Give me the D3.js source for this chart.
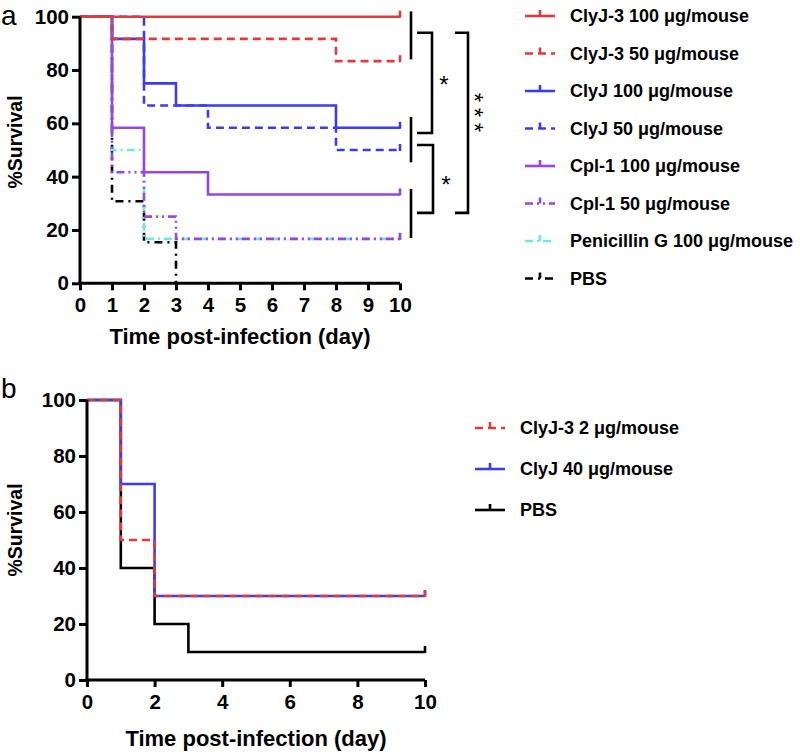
<!DOCTYPE html>
<html><head><meta charset="utf-8">
<script src="https://cdn.jsdelivr.net/npm/d3@7"></script>
<style>
body{margin:0;background:#fff;}
text{font-family:"Liberation Sans",Arial,Helvetica,sans-serif;}
</style></head>
<body><svg id="c" width="800" height="754"></svg>
<script>
// ---------- Panel a data (day, %survival) ----------
const daysA = [0,1,2,3,4,5,6,7,8,9,10];
const yTicks = [0,20,40,60,80,100];
const clyj3_100 = [[0,100],[10,100]];
const clyj3_50  = [[0,100],[1,91.67],[8,83.33],[10,83.33]];
const clyj_100  = [[0,100],[1,91.67],[2,75],[3,66.67],[8,58.33],[10,58.33]];
const clyj_50   = [[0,100],[2,66.67],[4,58.33],[8,50],[10,50]];
const cpl1_100  = [[0,100],[1,58.33],[2,41.67],[4,33.33],[10,33.33]];
const cpl1_50   = [[0,100],[1,41.67],[2,25],[3,16.67],[10,16.67]];
const penG_100  = [[0,100],[1,50],[2,16.67],[10,16.67]];
const pbsA      = [[0,100],[1,30.77],[2,15.38],[3,0]];
const labelsA = ["ClyJ-3 100 \u03bcg/mouse","ClyJ-3 50 \u03bcg/mouse","ClyJ 100 \u03bcg/mouse","ClyJ 50 \u03bcg/mouse","Cpl-1 100 \u03bcg/mouse","Cpl-1 50 \u03bcg/mouse","Penicillin G 100 \u03bcg/mouse","PBS"];
// ---------- Panel b data ----------
const daysB = [0,2,4,6,8,10];
const clyj3_2  = [[0,100],[1,50],[2,30],[10,30]];
const clyj_40  = [[0,100],[1,70],[2,30],[10,30]];
const pbsB     = [[0,100],[1,40],[2,20],[3,10],[10,10]];
const labelsB = ["ClyJ-3 2 \u03bcg/mouse","ClyJ 40 \u03bcg/mouse","PBS"];

const RED="#e03a3a", BLUE="#3c3cef", PURPLE="#9b45e0", CYAN="#72e4ee", BLACK="#000";
const svg = d3.select("#c");

function drawPanel(o){
  const x = d3.scaleLinear().domain([0,10]).range([o.x0,o.x1]);
  const y = d3.scaleLinear().domain([0,100]).range([o.y0,o.y1]);
  const g = svg.append("g");
  const line = d3.line().x(d=>x(d[0])).y(d=>y(d[1])).curve(d3.curveStepAfter);
  o.series.forEach(s=>{
    g.append("path").datum(s.data).attr("d",line).attr("fill","none")
      .attr("stroke",s.color).attr("stroke-width",2.6)
      .attr("stroke-dasharray",s.dash||null);
    const last = s.data[s.data.length-1];
    if(last[0]===10){
      g.append("line").attr("x1",x(10)).attr("x2",x(10))
        .attr("y1",y(last[1])+1).attr("y2",y(last[1])-6)
        .attr("stroke",s.color).attr("stroke-width",2.6);
    }
  });
  // axes
  const ya = g.append("g").attr("transform",`translate(${o.x0},0)`)
    .call(d3.axisLeft(y).tickValues(yTicks).tickSize(8).tickSizeOuter(0).tickPadding(3));
  const xa = g.append("g").attr("transform",`translate(0,${o.y0})`)
    .call(d3.axisBottom(x).tickValues(o.xt).tickSize(7).tickSizeOuter(0).tickPadding(7));
  [ya,xa].forEach(a=>{
    a.select(".domain").attr("stroke","#000").attr("stroke-width",3);
    a.selectAll(".tick line").attr("stroke","#000").attr("stroke-width",3);
    a.selectAll("text").attr("font-size",20.5).attr("font-weight","bold").attr("fill","#000")
      .attr("font-family","Liberation Sans, Arial, sans-serif");
  });
  xa.select(".domain").attr("d",`M${o.x0-1.5},0H${o.x1}`);
  ya.select(".domain").attr("d",`M0,${o.y1}V${o.y0+1.5}`);
  g.append("text").attr("x",(o.x0+o.x1)/2).attr("y",o.xTitleY).attr("text-anchor","middle")
    .attr("font-size",22).attr("font-weight","bold").text("Time post-infection (day)");
  g.append("text").attr("transform",`translate(${o.yTitleX},${o.yTitleY}) rotate(-90)`)
    .attr("text-anchor","middle").attr("font-size",19.5).attr("font-weight","bold").text("%Survival");
  g.append("text").attr("x",1).attr("y",o.letterY).attr("font-size",28).text(o.letter);
  // legend
  o.series.slice().sort((a,b)=>a.li-b.li).forEach((s,i)=>{
    const ly = o.legY0 + i*o.legDy;
    g.append("line").attr("x1",o.legX).attr("x2",o.legX+30).attr("y1",ly).attr("y2",ly)
      .attr("stroke",s.color).attr("stroke-width",2.6).attr("stroke-dasharray",s.dash||null);
    g.append("line").attr("x1",o.legX+15).attr("x2",o.legX+15).attr("y1",ly).attr("y2",ly-6)
      .attr("stroke",s.color).attr("stroke-width",2.6);
    g.append("text").attr("x",o.legX+45).attr("y",ly).attr("dy","0.35em")
      .attr("font-size",18).attr("font-weight","bold").text(s.label);
  });
  return {x,y,g};
}

const A = drawPanel({
  x0:80,x1:400,y0:283.3,y1:16.7,xt:daysA,xTitleY:344,yTitleX:22,yTitleY:142,letter:"a",letterY:25,
  legX:525,legY0:16,legDy:37.5,
  series:[
    {data:pbsA,color:BLACK,dash:"8,5,2,5",label:labelsA[7],li:7},
    {data:penG_100,color:CYAN,dash:"8,4,2,4",label:labelsA[6],li:6},
    {data:cpl1_50,color:PURPLE,dash:"8,4,2,4,2,4",label:labelsA[5],li:5},
    {data:clyj_50,color:BLUE,dash:"8,5",label:labelsA[3],li:3},
    {data:clyj_100,color:BLUE,label:labelsA[2],li:2},
    {data:cpl1_100,color:PURPLE,label:labelsA[4],li:4},
    {data:clyj3_50,color:RED,dash:"8,5",label:labelsA[1],li:1},
    {data:clyj3_100,color:RED,label:labelsA[0],li:0}
  ]
});

// significance brackets (panel a)
(function(){
  const {x,y,g} = A;
  const bx = x(10)+11;
  const st = {stroke:"#000","stroke-width":2.6,fill:"none"};
  function seg(d){const p=g.append("path").attr("d",d);Object.entries(st).forEach(([k,v])=>p.attr(k,v));}
  [[102,84],[62.4,45.4],[35.4,17]].forEach(([a,b])=>seg(`M${bx},${y(a)}V${y(b)}`));
  seg(`M${bx+6},${y(94)}H${bx+21}V${y(56.4)}H${bx+6}`);
  seg(`M${bx+6},${y(51.9)}H${bx+22}V${y(26.4)}H${bx+6}`);
  seg(`M${bx+44},${y(94)}H${bx+57}V${y(26.4)}H${bx+44}`);
  const ast=(cx,cy)=>g.append("text").attr("x",cx).attr("y",cy).attr("text-anchor","middle")
    .attr("dy","0.72em").attr("font-size",24).text("*");
  ast(bx+33,y(78));
  ast(bx+35,y(40.5));
  // three stacked asterisks as one text, rotated to run vertically
  g.append("text").attr("transform",`translate(${bx+69},${y(69)+16}) rotate(90)`)
    .attr("text-anchor","middle").attr("dy","0.58em").attr("font-size",24)
    .attr("letter-spacing",5.7).text("***");
})();

drawPanel({
  x0:87,x1:425,y0:680,y1:400,xt:daysB,xTitleY:746,yTitleX:22,yTitleY:530,letter:"b",letterY:398,
  legX:475,legY0:428,legDy:41,
  series:[
    {data:pbsB,color:BLACK,label:labelsB[2],li:2},
    {data:clyj_40,color:BLUE,label:labelsB[1],li:1},
    {data:clyj3_2,color:RED,dash:"8,5",label:labelsB[0],li:0}
  ]
});
</script></body></html>
